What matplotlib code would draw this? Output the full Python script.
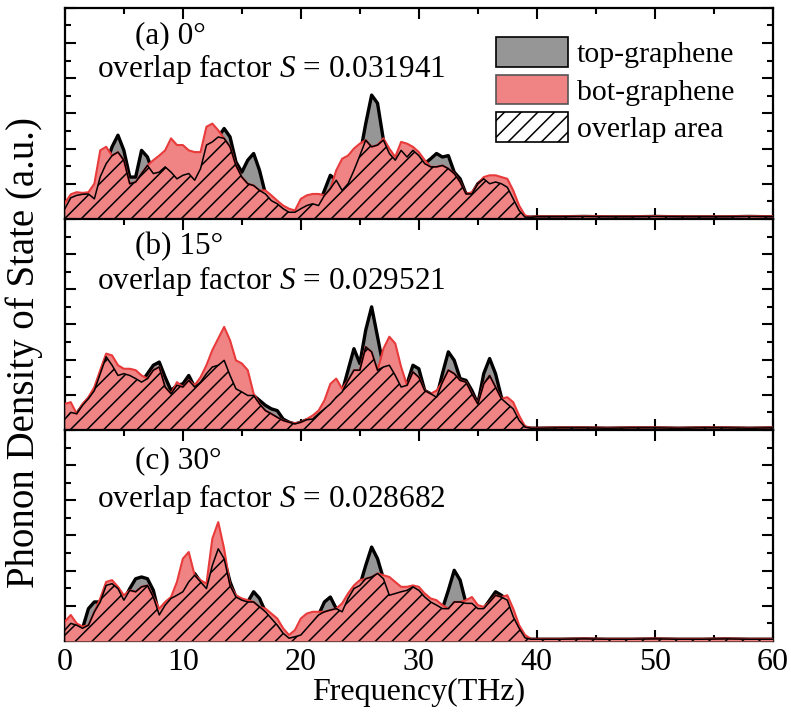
import numpy as np
import matplotlib
matplotlib.use('Agg')
import matplotlib.pyplot as plt
from matplotlib.ticker import MultipleLocator, NullFormatter
from matplotlib.patches import Patch

plt.rcParams['font.family'] = ['Liberation Serif', 'DejaVu Serif']
plt.rcParams['mathtext.fontset'] = 'custom'
plt.rcParams['mathtext.rm'] = 'Liberation Serif'
plt.rcParams['mathtext.it'] = 'Liberation Serif:italic'
plt.rcParams['hatch.linewidth'] = 1.1

# frequency grid (THz): 0.5 THz steps up to 39.5, then coarse tail
freq_main = np.arange(0, 40, 0.5)
freq_tail = [40, 42, 44, 46, 48, 50, 52, 54, 56, 58, 60]

# (a) 0 deg
top_a = [0.29, 0.60, 0.67, 0.70, 0.71, 0.57, 1.20, 1.57, 2.05, 2.38,
         1.95, 1.19, 1.19, 1.95, 1.76, 1.29, 1.33, 1.48, 1.33, 1.14,
         1.24, 1.29, 1.10, 1.43, 2.10, 2.19, 2.33, 2.57, 2.33, 1.62,
         1.33, 1.67, 1.86, 1.38, 0.71, 0.52, 0.43, 0.29, 0.19, 0.19,
         0.29, 0.38, 0.43, 0.38, 0.81, 1.24, 1.10, 0.81, 1.00, 1.38,
         1.80, 2.71, 3.52, 3.29, 2.24, 1.86, 1.67, 1.95, 1.76, 1.95,
         1.80, 1.57, 1.71, 1.86, 1.76, 1.80, 1.33, 1.14, 0.71, 0.71,
         1.00, 1.14, 1.00, 1.05, 1.00, 0.90, 0.57, 0.24, 0.05, 0.05]
bot_a = [0.45, 0.70, 0.76, 0.74, 0.76, 1.00, 1.95, 2.05, 1.80, 1.90,
         1.67, 1.00, 1.05, 1.29, 1.52, 1.67, 1.80, 1.95, 2.29, 2.10,
         2.10, 1.95, 1.90, 1.90, 2.62, 2.71, 2.52, 2.29, 2.05, 1.52,
         1.19, 1.00, 0.95, 0.81, 0.81, 0.67, 0.52, 0.38, 0.29, 0.24,
         0.57, 0.67, 0.71, 0.71, 0.67, 0.86, 1.38, 1.71, 1.80, 2.00,
         2.14, 2.24, 2.05, 2.10, 2.29, 2.00, 1.76, 2.19, 2.14, 2.05,
         1.90, 1.67, 1.48, 1.48, 1.52, 1.43, 1.29, 1.05, 0.71, 0.76,
         1.00, 1.19, 1.24, 1.24, 1.19, 1.14, 0.81, 0.38, 0.10, 0.06]
tail_top_a = [0.06, 0.06, 0.07, 0.06, 0.06, 0.07, 0.06, 0.06, 0.06, 0.07, 0.06]
tail_bot_a = [0.07, 0.07, 0.08, 0.07, 0.07, 0.08, 0.07, 0.07, 0.07, 0.08, 0.07]

# (b) 15 deg
top_b = [0.31, 0.50, 0.46, 0.70, 0.89, 1.12, 1.60, 2.08, 1.84, 1.55,
         1.60, 1.55, 1.46, 1.36, 1.60, 1.84, 1.93, 1.50, 1.12, 1.27,
         1.31, 1.55, 1.22, 1.36, 1.60, 1.79, 1.84, 1.98, 1.55, 1.17,
         1.08, 0.98, 0.98, 0.84, 0.70, 0.60, 0.55, 0.31, 0.22, 0.17,
         0.22, 0.29, 0.31, 0.46, 0.60, 0.74, 0.93, 1.08, 1.70, 2.31,
         1.89, 2.84, 3.50, 2.65, 1.79, 1.84, 1.55, 1.22, 1.31, 1.84,
         1.74, 1.12, 1.03, 0.93, 1.60, 2.22, 1.98, 1.46, 1.41, 1.12,
         0.74, 1.60, 2.03, 1.60, 0.93, 0.74, 0.60, 0.27, 0.08, 0.05]
bot_b = [0.74, 0.79, 0.46, 0.74, 0.93, 1.22, 1.70, 2.17, 2.12, 1.84,
         1.74, 1.74, 1.70, 1.55, 1.46, 1.70, 1.79, 1.22, 1.03, 1.36,
         1.22, 1.41, 1.27, 1.50, 1.84, 2.27, 2.60, 2.93, 2.55, 1.98,
         1.89, 1.70, 1.03, 0.74, 0.55, 0.46, 0.36, 0.27, 0.22, 0.19,
         0.22, 0.31, 0.41, 0.55, 0.84, 1.31, 1.46, 1.17, 1.41, 1.70,
         1.70, 2.36, 2.22, 1.70, 2.31, 2.65, 2.46, 1.79, 1.27, 1.65,
         1.50, 1.12, 1.03, 1.12, 1.36, 1.70, 1.60, 1.41, 1.36, 1.03,
         0.74, 1.31, 1.55, 1.22, 0.89, 0.93, 0.79, 0.41, 0.10, 0.06]
tail_top_b = [0.05, 0.06, 0.06, 0.05, 0.06, 0.06, 0.05, 0.06, 0.06, 0.05, 0.06]
tail_bot_b = [0.06, 0.07, 0.07, 0.06, 0.07, 0.07, 0.06, 0.07, 0.07, 0.06, 0.07]

# (c) 30 deg
top_c = [0.31, 0.50, 0.45, 0.36, 0.92, 1.11, 1.11, 1.58, 1.63, 1.49,
         1.16, 1.49, 1.77, 1.82, 1.77, 1.44, 0.74, 1.02, 1.21, 1.30,
         1.40, 1.68, 1.92, 1.68, 1.49, 2.15, 2.62, 2.34, 1.68, 1.25,
         1.16, 1.11, 1.40, 1.21, 0.83, 0.64, 0.45, 0.22, 0.08, 0.12,
         0.17, 0.36, 0.55, 0.74, 1.11, 1.25, 0.92, 0.83, 1.21, 1.49,
         1.58, 2.15, 2.67, 2.34, 1.77, 1.30, 1.35, 1.40, 1.44, 1.54,
         1.44, 1.25, 1.11, 1.02, 0.92, 1.44, 2.01, 1.73, 1.07, 1.07,
         0.92, 0.92, 1.16, 1.40, 1.30, 1.16, 0.69, 0.36, 0.09, 0.05]
bot_c = [0.55, 0.74, 0.50, 0.41, 0.45, 0.83, 1.21, 1.68, 1.73, 1.54,
         1.30, 1.44, 1.40, 1.54, 1.58, 1.25, 0.92, 1.11, 1.25, 1.68,
         2.34, 2.53, 1.87, 1.73, 1.63, 2.91, 3.38, 2.62, 1.58, 1.30,
         1.21, 1.16, 1.11, 0.97, 0.92, 0.78, 0.64, 0.36, 0.17, 0.31,
         0.64, 0.78, 0.83, 0.83, 0.83, 0.88, 0.92, 1.07, 1.35, 1.58,
         1.73, 1.77, 1.82, 1.92, 1.87, 1.82, 1.68, 1.54, 1.54, 1.58,
         1.54, 1.35, 1.21, 1.16, 1.02, 0.92, 1.11, 1.11, 1.16, 1.25,
         1.02, 0.97, 1.11, 1.30, 1.25, 1.30, 0.92, 0.45, 0.17, 0.06]
tail_top_c = [0.05, 0.05, 0.06, 0.05, 0.05, 0.06, 0.05, 0.05, 0.06, 0.05, 0.05]
tail_bot_c = [0.06, 0.06, 0.07, 0.06, 0.06, 0.07, 0.06, 0.06, 0.07, 0.06, 0.06]

panel_titles = ['(a) 0°', '(b) 15°', '(c) 30°']
overlap_S = ['0.031941', '0.029521', '0.028682']

gray = '#969696'
red_fill = '#f08383'
red_line = '#e83a3a'

freq = np.concatenate([freq_main, freq_tail])
tops = [top_a + tail_top_a, top_b + tail_top_b, top_c + tail_top_c]
bots = [bot_a + tail_bot_a, bot_b + tail_bot_b, bot_c + tail_bot_c]

fig, axes = plt.subplots(3, 1, figsize=(7.91, 7.17), dpi=100, sharex=True)
fig.subplots_adjust(left=0.082, right=0.977, top=0.989, bottom=0.106, hspace=0)

title_y = [0.87, 0.87, 0.855]
s_y = [0.71, 0.705, 0.675]

for i, ax in enumerate(axes):
    top = np.array(tops[i])
    bot = np.array(bots[i])
    low = np.minimum(top, bot)

    ax.fill_between(freq, 0, top, color=gray, lw=0, zorder=1)
    ax.plot(freq, top, color='black', lw=2.4, zorder=2)
    ax.fill_between(freq, 0, bot, color=red_fill, lw=0, zorder=3)
    ax.plot(freq, bot, color=red_line, lw=1.5, zorder=4)
    ax.fill_between(freq, 0, low, facecolor='none', edgecolor='black',
                    hatch='//', lw=0, zorder=5)
    ax.plot(freq, low, color='black', lw=1.1, zorder=6)

    ax.set_xlim(0, 60)
    ax.set_ylim(0, 6)
    ax.xaxis.set_major_locator(MultipleLocator(10))
    ax.xaxis.set_minor_locator(MultipleLocator(5))
    ax.yaxis.set_major_locator(MultipleLocator(1))
    ax.yaxis.set_minor_locator(MultipleLocator(0.5))
    ax.yaxis.set_major_formatter(NullFormatter())
    ax.tick_params(which='both', direction='in', top=True, right=True, width=1.5)
    ax.tick_params(which='major', length=8)
    ax.tick_params(which='minor', length=4)
    ax.tick_params(axis='x', labelsize=23, pad=5)
    for sp in ax.spines.values():
        sp.set_linewidth(1.6)

    ax.text(0.099, title_y[i], panel_titles[i], transform=ax.transAxes,
            fontsize=22.5, va='center', ha='left')
    ax.text(0.045, s_y[i], 'overlap factor $S$ = ' + overlap_S[i],
            transform=ax.transAxes, fontsize=22.5, va='center', ha='left')

handles = [Patch(facecolor=gray, edgecolor='black', lw=1.2),
           Patch(facecolor=red_fill, edgecolor='#555555', lw=1.2),
           Patch(facecolor='white', edgecolor='black', hatch='//', lw=1.2)]
axes[0].legend(handles, ['top-graphene', 'bot-graphene', 'overlap area'],
               loc='upper right', bbox_to_anchor=(0.975, 0.96), frameon=False,
               fontsize=21.5, handlelength=2.4, handleheight=1.15,
               labelspacing=0.22, handletextpad=0.3, borderaxespad=0.3)

axes[2].set_xlabel('Frequency(THz)', fontsize=23, labelpad=1)
fig.text(0.03, 0.508, 'Phonon Density of State (a.u.)', rotation=90,
         fontsize=28, ha='center', va='center')

fig.savefig('out.png', dpi=100)
